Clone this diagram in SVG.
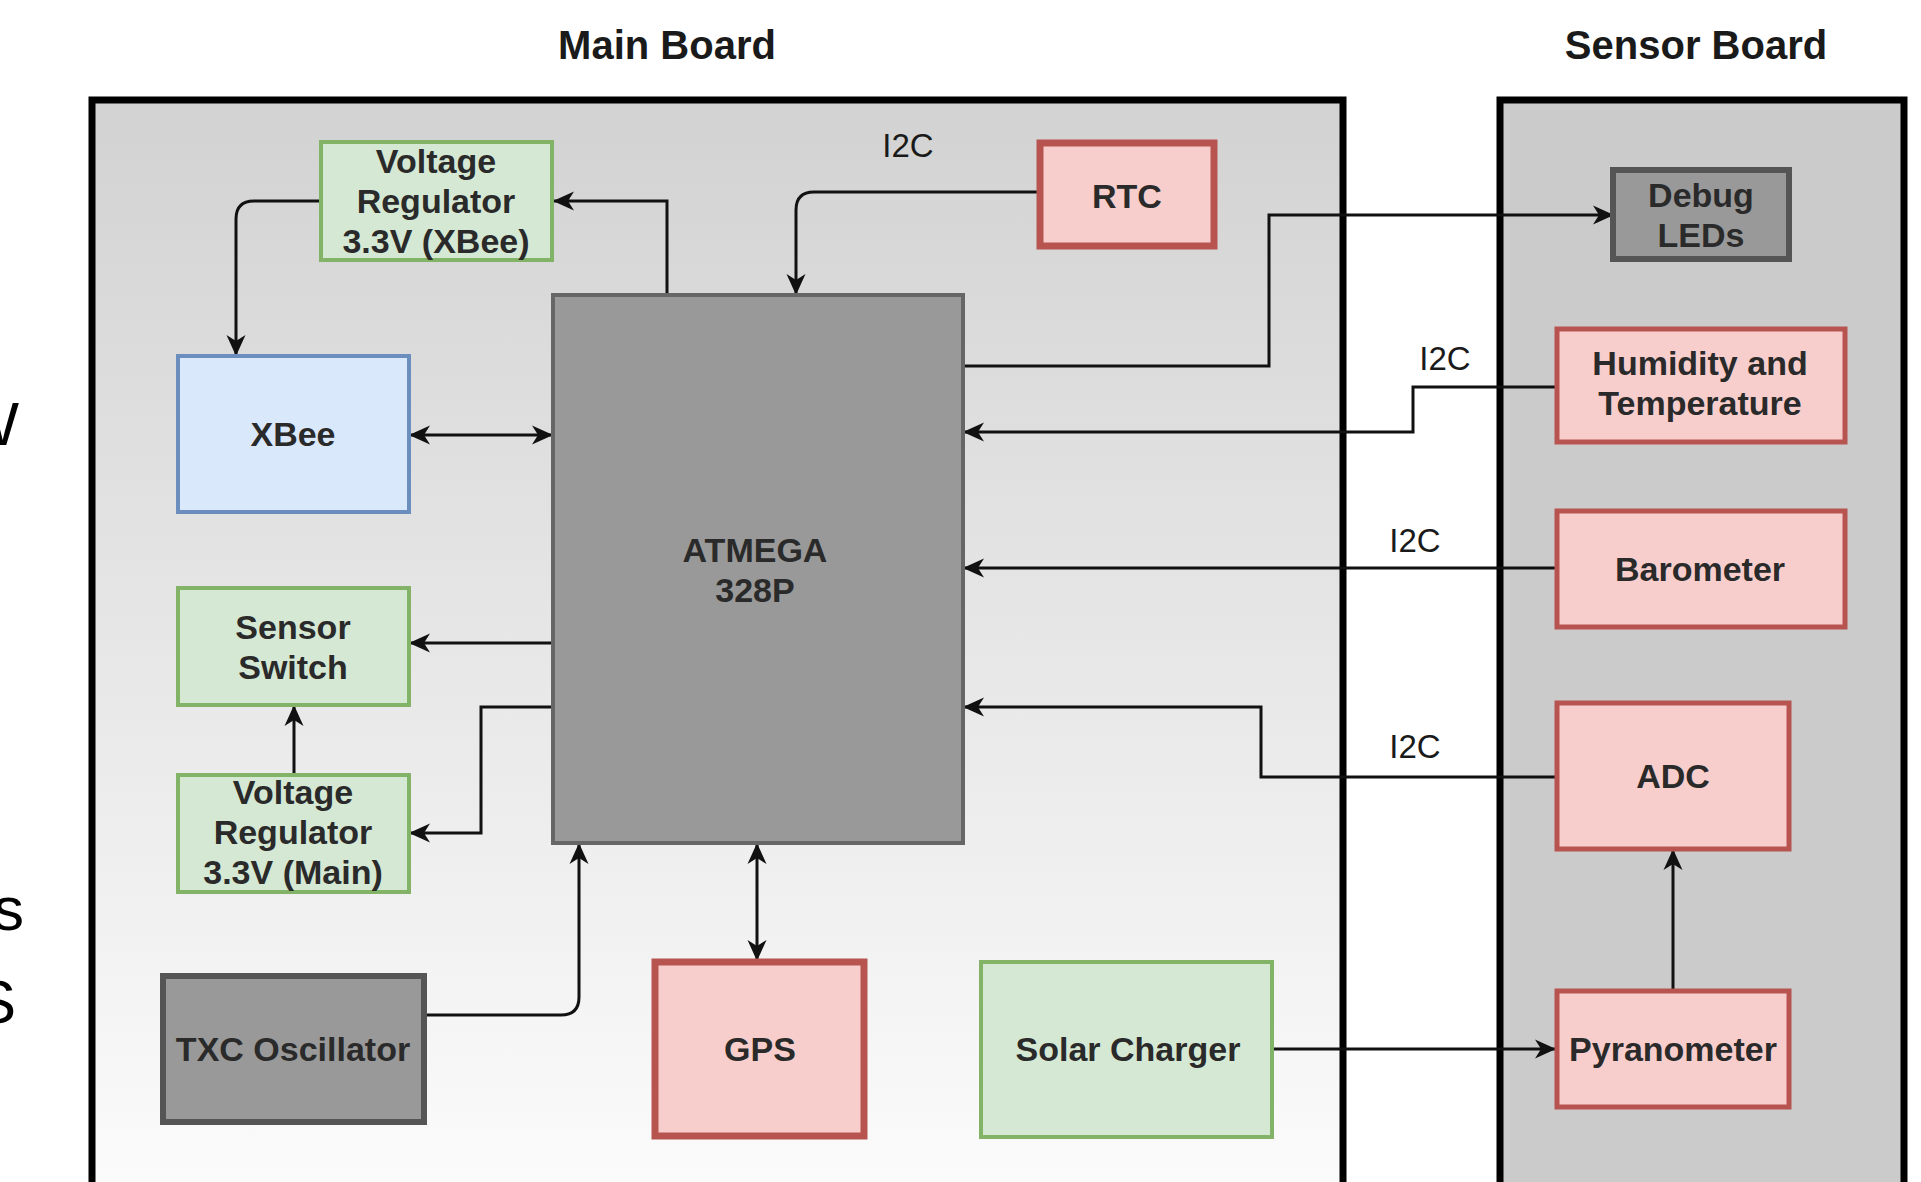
<svg xmlns="http://www.w3.org/2000/svg" width="1921" height="1182" viewBox="0 0 1921 1182">
<defs>
<linearGradient id="mainGrad" gradientUnits="userSpaceOnUse" x1="0" y1="100" x2="0" y2="1182">
<stop offset="0" stop-color="#d2d2d2"/>
<stop offset="1" stop-color="#fbfbfb"/>
</linearGradient>
<marker id="arr" markerUnits="userSpaceOnUse" markerWidth="22" markerHeight="22" viewBox="0 0 22 22" refX="20" refY="11" orient="auto-start-reverse">
<path d="M0,1.5 L21,11 L0,20.5 L6,11 Z" fill="#111"/>
</marker>
<style>
.frame{stroke:#000;stroke-width:7}
.title{font-family:"Liberation Sans",Arial,sans-serif;font-weight:bold;font-size:40px;fill:#1a1a1a;text-anchor:middle}
.lbl{font-family:"Liberation Sans",Arial,sans-serif;font-weight:bold;font-size:34px;fill:#2a2a2a;text-anchor:middle}
.i2c{font-family:"Liberation Sans",Arial,sans-serif;font-size:33px;fill:#1a1a1a;text-anchor:middle}
.frag{font-family:"Liberation Sans",Arial,sans-serif;font-size:62px;fill:#000;text-anchor:end}
.green{fill:#d5e8d4;stroke:#82b366;stroke-width:4}
.blue{fill:#dae8fc;stroke:#6c8ebf;stroke-width:4}
.red{fill:#f8cecc;stroke:#b85450;stroke-width:5}
.redb{fill:#f8cecc;stroke:#b85450;stroke-width:7}
.gray{fill:#999999;stroke:#666666;stroke-width:4}
.grayb{fill:#999999;stroke:#555555;stroke-width:6}
.edge{fill:none;stroke:#111;stroke-width:3}
.a{marker-end:url(#arr)}
.aa{marker-end:url(#arr);marker-start:url(#arr)}
</style>
</defs>

<rect width="1921" height="1182" fill="#ffffff"/>

<!-- cut-off slide text at left edge -->
<g id="fragments">
<text class="frag" x="19" y="445">W</text>
<text class="frag" x="24" y="930">s</text>
<text class="frag" x="16" y="1023">S</text>
</g>

<!-- boards -->
<g id="main-board">
<rect class="frame" x="92" y="100" width="1251" height="1200" fill="url(#mainGrad)"/>
<text class="title" x="667" y="59">Main Board</text>
</g>
<g id="sensor-board">
<rect class="frame" x="1500" y="100" width="404" height="1200" fill="#cbcbcb"/>
<text class="title" x="1696" y="59">Sensor Board</text>
</g>

<!-- connectors -->
<g id="connectors">
<path class="edge a" d="M667,295 V201 H554"/>
<path class="edge a" d="M321,201 H254 Q236,201 236,219 V355"/>
<path class="edge a" d="M1038,192 H814 Q796,192 796,210 V294"/>
<path class="edge a" d="M963,366 H1269 V215 H1613"/>
<path class="edge a" d="M1556,387 H1413 V432 H964"/>
<path class="edge a" d="M1556,568 H964"/>
<path class="edge a" d="M1556,777 H1261 V707 H964"/>
<path class="edge aa" d="M410,435 H552"/>
<path class="edge a" d="M553,643 H410"/>
<path class="edge a" d="M553,707 H481 V833 H410"/>
<path class="edge a" d="M294,775 V706"/>
<path class="edge a" d="M424,1015 H561 Q579,1015 579,997 V844"/>
<path class="edge aa" d="M757,844 V960"/>
<path class="edge a" d="M1272,1049 H1555"/>
<path class="edge a" d="M1673,990 V850"/>
<text class="i2c" x="908" y="157">I2C</text>
<text class="i2c" x="1445" y="370">I2C</text>
<text class="i2c" x="1415" y="552">I2C</text>
<text class="i2c" x="1415" y="758">I2C</text>
</g>

<!-- nodes -->
<g id="vreg-xbee">
<rect class="green" x="321" y="142" width="231" height="118"/>
<text class="lbl" x="436" y="173">Voltage</text>
<text class="lbl" x="436" y="213">Regulator</text>
<text class="lbl" x="436" y="253">3.3V (XBee)</text>
</g>
<g id="rtc">
<rect class="redb" x="1040" y="143" width="174" height="103"/>
<text class="lbl" x="1127" y="208">RTC</text>
</g>
<g id="xbee">
<rect class="blue" x="178" y="356" width="231" height="156"/>
<text class="lbl" x="293" y="446">XBee</text>
</g>
<g id="atmega">
<rect class="gray" x="553" y="295" width="410" height="548"/>
<text class="lbl" x="755" y="562">ATMEGA</text>
<text class="lbl" x="755" y="602">328P</text>
</g>
<g id="sensor-switch">
<rect class="green" x="178" y="588" width="231" height="117"/>
<text class="lbl" x="293" y="639">Sensor</text>
<text class="lbl" x="293" y="679">Switch</text>
</g>
<g id="vreg-main">
<rect class="green" x="178" y="775" width="231" height="117"/>
<text class="lbl" x="293" y="804">Voltage</text>
<text class="lbl" x="293" y="844">Regulator</text>
<text class="lbl" x="293" y="884">3.3V (Main)</text>
</g>
<g id="txc">
<rect class="grayb" x="163" y="976" width="261" height="146"/>
<text class="lbl" x="293" y="1061">TXC Oscillator</text>
</g>
<g id="gps">
<rect class="redb" x="655" y="962" width="209" height="174"/>
<text class="lbl" x="760" y="1061">GPS</text>
</g>
<g id="solar">
<rect class="green" x="981" y="962" width="291" height="175"/>
<text class="lbl" x="1128" y="1061">Solar Charger</text>
</g>
<g id="debug-leds">
<rect class="grayb" x="1613" y="170" width="176" height="89"/>
<text class="lbl" x="1701" y="207">Debug</text>
<text class="lbl" x="1701" y="247">LEDs</text>
</g>
<g id="humidity">
<rect class="red" x="1557" y="329" width="288" height="113"/>
<text class="lbl" x="1700" y="375">Humidity and</text>
<text class="lbl" x="1700" y="415">Temperature</text>
</g>
<g id="barometer">
<rect class="red" x="1557" y="511" width="288" height="116"/>
<text class="lbl" x="1700" y="581">Barometer</text>
</g>
<g id="adc">
<rect class="red" x="1557" y="703" width="232" height="146"/>
<text class="lbl" x="1673" y="788">ADC</text>
</g>
<g id="pyranometer">
<rect class="red" x="1557" y="991" width="232" height="116"/>
<text class="lbl" x="1673" y="1061">Pyranometer</text>
</g>
</svg>
